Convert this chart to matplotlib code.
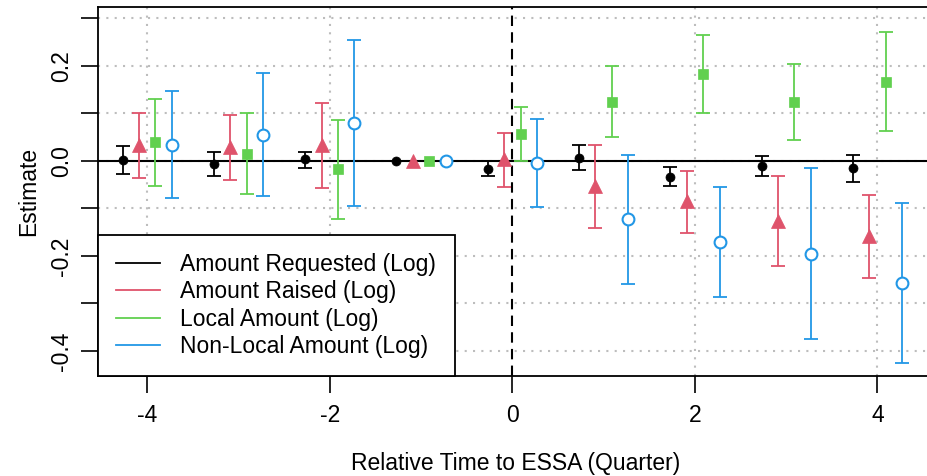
import numpy as np
import matplotlib
matplotlib.use("Agg")
import matplotlib.pyplot as plt

plt.rcParams['font.family'] = ['Liberation Sans', 'DejaVu Sans']

# relative time (quarters)
quarters = [-4, -3, -2, -1, 0, 1, 2, 3, 4]

# Amount Requested (Log)
req_est = [0.002, -0.006, 0.003, 0.0, -0.017, 0.007, -0.033, -0.011, -0.015]
req_lo = [-0.027, -0.031, -0.015, 0.0, -0.032, -0.019, -0.053, -0.032, -0.044]
req_hi = [0.032, 0.018, 0.019, 0.0, -0.001, 0.034, -0.013, 0.011, 0.013]

# Amount Raised (Log)
rai_est = [0.034, 0.030, 0.034, 0.0, 0.004, -0.052, -0.084, -0.126, -0.158]
rai_lo = [-0.036, -0.040, -0.057, 0.0, -0.055, -0.142, -0.151, -0.221, -0.246]
rai_hi = [0.100, 0.096, 0.121, 0.0, 0.058, 0.033, -0.021, -0.032, -0.071]

# Local Amount (Log)
loc_est = [0.039, 0.015, -0.018, 0.0, 0.057, 0.125, 0.182, 0.123, 0.166]
loc_lo = [-0.052, -0.069, -0.122, 0.0, -0.001, 0.051, 0.100, 0.043, 0.062]
loc_hi = [0.130, 0.100, 0.086, 0.0, 0.113, 0.199, 0.266, 0.204, 0.271]

# Non-Local Amount (Log)
nl_est = [0.034, 0.055, 0.079, 0.0, -0.005, -0.123, -0.171, -0.196, -0.257]
nl_lo = [-0.079, -0.075, -0.096, 0.0, -0.098, -0.259, -0.287, -0.375, -0.425]
nl_hi = [0.148, 0.185, 0.255, 0.0, 0.088, 0.013, -0.056, -0.015, -0.089]

labels = ["Amount Requested (Log)", "Amount Raised (Log)",
          "Local Amount (Log)", "Non-Local Amount (Log)"]
colors = ["#000000", "#DF536B", "#61D04F", "#2297E6"]

fig = plt.figure(figsize=(9.27, 4.76), dpi=100)
ax = fig.add_axes([98/927, 100/476, 836/927, 369/476])

# grid
gstyle = dict(color="#bdbdbd", linestyle=(0, (1, 3)), linewidth=1.5, zorder=0)
for yv in np.arange(-0.4, 0.35, 0.1):
    ax.axhline(yv, **gstyle)
for xv in [-4, -2, 2, 4]:
    ax.axvline(xv, **gstyle)
ax.axhline(0, color="black", lw=1.5, zorder=1)
ax.axvline(0, color="black", lw=1.5, ls=(0, (5, 3)), zorder=1)

q = np.array(quarters, dtype=float)
series = [
    (req_est, req_lo, req_hi, -0.27, "o", 6.5, True),
    (rai_est, rai_lo, rai_hi, -0.09, "^", 9.5, True),
    (loc_est, loc_lo, loc_hi, 0.09, "s", 7, True),
    (nl_est, nl_lo, nl_hi, 0.27, "o", 8.5, False),
]
for (est, lo, hi, off, mk, ms, filled), col in zip(series, colors):
    est = np.array(est); lo = np.array(lo); hi = np.array(hi)
    x = q + off
    has = hi - lo > 0
    ax.errorbar(x[has], est[has], yerr=[est[has] - lo[has], hi[has] - est[has]],
                fmt="none", ecolor=col, elinewidth=1.3, capsize=5, capthick=1.3,
                zorder=3)
    ax.plot(x, est, ls="none", marker=mk, ms=ms,
            mfc=col if filled else "white", mec=col,
            mew=1.5 if not filled else 0.5, zorder=4)

ax.set_xlim(-4.54, 4.62)
ax.set_ylim(-0.453, 0.324)

ax.set_xticks([-4, -2, 0, 2, 4])
ax.set_xticklabels(["-4", "-2", "0", "2", "4"])
yt = np.round(np.arange(-0.4, 0.35, 0.1), 1) + 0.0
ax.set_yticks(yt)
ax.set_yticklabels(["%.1f" % (v + 0.0) if abs(round(v * 10)) % 2 == 0 else ""
                    for v in yt], rotation=90, va="center")
ax.tick_params(axis="both", direction="out", length=12, width=1.2,
               labelsize=16.5, pad=8)
ax.tick_params(axis="y", pad=6)
for s in ax.spines.values():
    s.set_linewidth(1.3)

ax.set_xlabel("Relative Time to ESSA (Quarter)", fontsize=16.5, labelpad=18)
ax.set_ylabel("Estimate", fontsize=16.5, labelpad=7)

handles = [plt.Line2D([], [], color=c, lw=1.3) for c in colors]
leg = ax.legend(handles, labels, loc="lower left", bbox_to_anchor=(0, 0),
                borderaxespad=0, fontsize=16.5, frameon=True, fancybox=False,
                edgecolor="black", framealpha=1, handlelength=1.9,
                handletextpad=0.9, labelspacing=0.18, borderpad=0.8)
leg.get_frame().set_linewidth(1.3)
leg.set_zorder(5)

fig.savefig("out.png", dpi=100)
